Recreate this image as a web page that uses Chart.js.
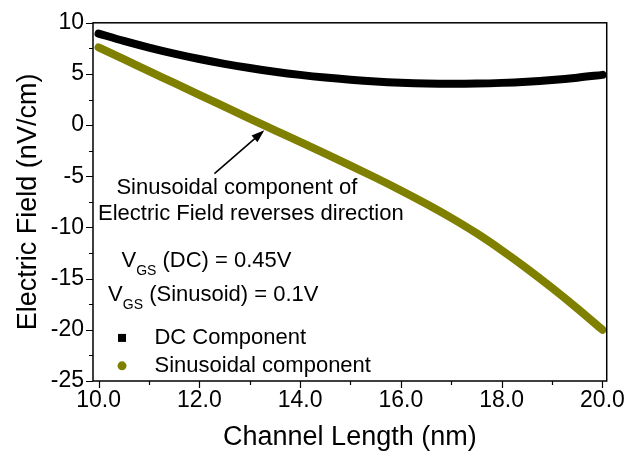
<!DOCTYPE html>
<html>
<head>
<meta charset="utf-8">
<script src="https://cdn.jsdelivr.net/npm/chart.js@4.4.1/dist/chart.umd.min.js"></script>
<style>
  html, body { margin: 0; padding: 0; background: #fff; }
</style>
</head>
<body>
<canvas id="field-chart" width="631" height="457"></canvas>
<script>
// DATA
const channelLength = [10, 10.5, 11, 11.5, 12, 12.5, 13, 13.5, 14, 14.5, 15, 15.5, 16, 16.5, 17, 17.5, 18, 18.5, 19, 19.5, 20];
const dcField = [8.95, 8.23, 7.58, 6.99, 6.46, 5.99, 5.58, 5.22, 4.91, 4.65, 4.44, 4.27, 4.15, 4.07, 4.04, 4.06, 4.13, 4.25, 4.42, 4.64, 4.91];
const sinField = [7.6, 6.44, 5.28, 4.12, 2.96, 1.8, 0.64, -0.5, -1.64, -2.79, -3.95, -5.14, -6.38, -7.68, -9.06, -10.56, -12.22, -14.0, -15.9, -17.9, -20.0];
const seriesLabels = ['DC Component', 'Sinusoidal component'];

const xMajorTicks = [10, 12, 14, 16, 18, 20];
const xMinorTicks = [11, 13, 15, 17, 19];
const yMajorTicks = [-25, -20, -15, -10, -5, 0, 5, 10];
const yMinorTicks = [-22.5, -17.5, -12.5, -7.5, -2.5, 2.5, 7.5];

const FONT = "'Liberation Sans', Arial, sans-serif";
const OLIVE = '#808000';

// annotation anchors, in data units
const arrowTail = {x: 12.30, y: -4.73};
const arrowTip = {x: 13.29, y: -0.51};
const noteLines = [
    {x: 10.355, y: -6.12, text: 'Sinusoidal component of'},
    {x: 9.99, y: -8.64, text: 'Electric Field reverses direction'}
];
const vgsLines = [
    {x: 10.455, y: -13.3, text: ' (DC) = 0.45V'},
    {x: 10.19, y: -16.6, text: ' (Sinusoid) = 0.1V'}
];
const legendAnchor = {x: 10.466, textX: 11.11, y: [-20.79, -23.52]};

// frame + tick marks (Chart.js has no minor ticks)
const framePlugin = {
    id: 'frame',
    afterDatasetsDraw(chart) {
        const {ctx, chartArea: a, scales: {x, y}} = chart;
        ctx.save();
        ctx.strokeStyle = '#000';
        ctx.lineWidth = 1.2;
        ctx.beginPath();
        xMajorTicks.forEach(v => { const p = Math.round(x.getPixelForValue(v)) + 0.5; ctx.moveTo(p, a.bottom); ctx.lineTo(p, a.bottom + 7); });
        xMinorTicks.forEach(v => { const p = Math.round(x.getPixelForValue(v)) + 0.5; ctx.moveTo(p, a.bottom); ctx.lineTo(p, a.bottom + 4); });
        yMajorTicks.forEach(v => { const p = Math.round(y.getPixelForValue(v)) + 0.5; ctx.moveTo(a.left, p); ctx.lineTo(a.left - 7, p); });
        yMinorTicks.forEach(v => { const p = Math.round(y.getPixelForValue(v)) + 0.5; ctx.moveTo(a.left, p); ctx.lineTo(a.left - 4, p); });
        ctx.stroke();
        ctx.lineWidth = 1.5;
        ctx.strokeRect(a.left, a.top, a.right - a.left, a.bottom - a.top);
        ctx.restore();
    }
};

// arrow, texts and legend inside the plot
const notesPlugin = {
    id: 'notes',
    afterDraw(chart) {
        const {ctx, scales: {x, y}} = chart;
        const px = v => x.getPixelForValue(v);
        const py = v => y.getPixelForValue(v);
        ctx.save();
        ctx.fillStyle = '#000';
        ctx.strokeStyle = '#000';

        // arrow
        const x0 = px(arrowTail.x), y0 = py(arrowTail.y), x1 = px(arrowTip.x), y1 = py(arrowTip.y);
        const ang = Math.atan2(y1 - y0, x1 - x0);
        ctx.lineWidth = 1.6;
        ctx.beginPath();
        ctx.moveTo(x0, y0);
        ctx.lineTo(x1 - 10 * Math.cos(ang), y1 - 10 * Math.sin(ang));
        ctx.stroke();
        ctx.beginPath();
        ctx.moveTo(x1, y1);
        ctx.lineTo(x1 - 13 * Math.cos(ang) + 4.5 * Math.sin(ang), y1 - 13 * Math.sin(ang) - 4.5 * Math.cos(ang));
        ctx.lineTo(x1 - 13 * Math.cos(ang) - 4.5 * Math.sin(ang), y1 - 13 * Math.sin(ang) + 4.5 * Math.cos(ang));
        ctx.closePath();
        ctx.fill();

        ctx.textBaseline = 'middle';
        ctx.textAlign = 'left';
        ctx.font = '22px ' + FONT;
        noteLines.forEach(l => ctx.fillText(l.text, px(l.x), py(l.y)));

        // V_GS lines with subscript
        vgsLines.forEach(l => {
            let cx = px(l.x);
            const cy = py(l.y);
            ctx.font = '22px ' + FONT;
            ctx.fillText('V', cx, cy);
            cx += ctx.measureText('V').width;
            ctx.font = '14px ' + FONT;
            ctx.fillText('GS', cx, cy + 10);
            cx += ctx.measureText('GS').width;
            ctx.font = '22px ' + FONT;
            ctx.fillText(l.text, cx, cy);
        });

        // legend
        const ds = chart.data.datasets;
        const mx = px(legendAnchor.x);
        const my0 = py(legendAnchor.y[0]), my1 = py(legendAnchor.y[1]);
        ctx.fillStyle = ds[0].borderColor;
        ctx.fillRect(mx - 4, my0 - 4, 8, 8);
        ctx.fillStyle = ds[1].borderColor;
        ctx.beginPath();
        ctx.arc(mx, my1, 4.5, 0, Math.PI * 2);
        ctx.fill();
        ctx.fillStyle = '#000';
        ctx.font = '22px ' + FONT;
        ctx.fillText(ds[0].label, px(legendAnchor.textX), my0);
        ctx.fillText(ds[1].label, px(legendAnchor.textX), my1);
        ctx.restore();
    }
};

Chart.defaults.font.family = FONT;
Chart.defaults.color = '#000';

const ctx = document.getElementById('field-chart').getContext('2d');
new Chart(ctx, {
    type: 'line',
    data: {
        datasets: [
            {
                label: seriesLabels[0],
                data: channelLength.map((c, i) => ({x: c, y: dcField[i]})),
                borderColor: '#000000',
                borderWidth: 8,
                borderCapStyle: 'round',
                pointRadius: 0,
                cubicInterpolationMode: 'monotone',
                fill: false
            },
            {
                label: seriesLabels[1],
                data: channelLength.map((c, i) => ({x: c, y: sinField[i]})),
                borderColor: OLIVE,
                borderWidth: 8,
                borderCapStyle: 'round',
                pointRadius: 0,
                cubicInterpolationMode: 'monotone',
                fill: false
            }
        ]
    },
    options: {
        responsive: false,
        animation: false,
        layout: { padding: { top: 20, right: 22, bottom: 0, left: 0 } },
        plugins: { legend: { display: false }, tooltip: { enabled: false } },
        scales: {
            x: {
                type: 'linear',
                min: 9.89,
                max: 20.085,
                afterBuildTicks: s => { s.ticks = xMajorTicks.map(v => ({value: v})); },
                afterFit: s => { s.height = 76; },
                grid: { display: false, drawTicks: false },
                border: { display: false },
                ticks: { padding: 6, font: { size: 23 }, color: '#000', callback: v => v.toFixed(1) },
                title: { display: true, text: 'Channel Length (nm)', font: { size: 27 }, color: '#000', padding: { top: 0, bottom: 3 } }
            },
            y: {
                type: 'linear',
                min: -25,
                max: 10,
                afterBuildTicks: s => { s.ticks = yMajorTicks.map(v => ({value: v})); },
                afterFit: s => { s.width = 93; },
                grid: { display: false, drawTicks: false },
                border: { display: false },
                ticks: { padding: 9, font: { size: 23 }, color: '#000', callback: v => String(v) },
                title: { display: true, text: 'Electric Field (nV/cm)', font: { size: 27 }, color: '#000', padding: { top: 12, bottom: 0 } }
            }
        }
    },
    plugins: [framePlugin, notesPlugin]
});
</script>
</body>
</html>
